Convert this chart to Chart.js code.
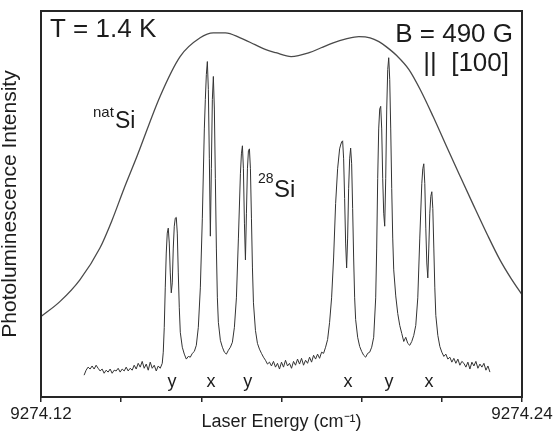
<!DOCTYPE html>
<html>
<head>
<meta charset="utf-8">
<script src="https://cdn.jsdelivr.net/npm/chart.js@4.4.0/dist/chart.umd.min.js"></script>
<style>
  html, body { margin: 0; padding: 0; background: #fff; }
  #plChart { display: block; }
</style>
</head>
<body>
<canvas id="plChart" width="556" height="435"></canvas>
<script>
// Photoluminescence of 28Si vs natSi, B = 490 G || [100]

const FONT = '"Liberation Sans", Arial, sans-serif';
const INK = '#1c1c1c';

// x axis range and tick labels
const xMin = 9274.12;
const xMax = 9274.24;
const xStep = 0.02;
const xTitle = 'Laser Energy (cm\u207B\u00B9)';

// 28Si spectrum (laser energy in cm-1, intensity in arb. units)
const siEnergy = [
    9274.13075, 9274.13125, 9274.13175, 9274.13225, 9274.13275, 9274.13325, 9274.13375, 9274.13425, 9274.13475, 9274.13525,
    9274.13575, 9274.13625, 9274.13675, 9274.13725, 9274.13775, 9274.13825, 9274.13875, 9274.13925, 9274.13975, 9274.14025,
    9274.14075, 9274.14125, 9274.14175, 9274.14225, 9274.14275, 9274.14325, 9274.14375, 9274.14425, 9274.14475, 9274.14525,
    9274.14575, 9274.14625, 9274.14675, 9274.14725, 9274.14775, 9274.14825, 9274.14875, 9274.14925, 9274.14975, 9274.15025,
    9274.15050, 9274.15075, 9274.15100, 9274.15125, 9274.15150, 9274.15175, 9274.15200, 9274.15225, 9274.15250, 9274.15275,
    9274.15300, 9274.15325, 9274.15350, 9274.15375, 9274.15400, 9274.15425, 9274.15450, 9274.15475, 9274.15525, 9274.15575,
    9274.15625, 9274.15675, 9274.15725, 9274.15775, 9274.15825, 9274.15875, 9274.15925, 9274.15975, 9274.16025, 9274.16075,
    9274.16100, 9274.16125, 9274.16150, 9274.16175, 9274.16200, 9274.16225, 9274.16250, 9274.16275, 9274.16300, 9274.16325,
    9274.16350, 9274.16375, 9274.16400, 9274.16425, 9274.16475, 9274.16525, 9274.16575, 9274.16625, 9274.16675, 9274.16725,
    9274.16775, 9274.16825, 9274.16875, 9274.16925, 9274.16975, 9274.17000, 9274.17025, 9274.17050, 9274.17075, 9274.17100,
    9274.17125, 9274.17150, 9274.17175, 9274.17200, 9274.17225, 9274.17250, 9274.17275, 9274.17300, 9274.17350, 9274.17400,
    9274.17450, 9274.17500, 9274.17550, 9274.17600, 9274.17650, 9274.17700, 9274.17750, 9274.17800, 9274.17850, 9274.17900,
    9274.17950, 9274.18000, 9274.18050, 9274.18100, 9274.18150, 9274.18200, 9274.18250, 9274.18300, 9274.18350, 9274.18400,
    9274.18450, 9274.18500, 9274.18550, 9274.18600, 9274.18650, 9274.18700, 9274.18750, 9274.18800, 9274.18850, 9274.18900,
    9274.18950, 9274.19000, 9274.19050, 9274.19100, 9274.19150, 9274.19200, 9274.19250, 9274.19300, 9274.19350, 9274.19400,
    9274.19450, 9274.19475, 9274.19500, 9274.19525, 9274.19550, 9274.19575, 9274.19600, 9274.19625, 9274.19650, 9274.19675,
    9274.19700, 9274.19725, 9274.19750, 9274.19775, 9274.19800, 9274.19825, 9274.19850, 9274.19900, 9274.19950, 9274.20000,
    9274.20050, 9274.20100, 9274.20150, 9274.20200, 9274.20250, 9274.20300, 9274.20350, 9274.20375, 9274.20400, 9274.20425,
    9274.20450, 9274.20475, 9274.20500, 9274.20525, 9274.20550, 9274.20575, 9274.20600, 9274.20625, 9274.20650, 9274.20675,
    9274.20700, 9274.20725, 9274.20750, 9274.20775, 9274.20800, 9274.20850, 9274.20900, 9274.20950, 9274.21000, 9274.21050,
    9274.21100, 9274.21150, 9274.21200, 9274.21250, 9274.21300, 9274.21350, 9274.21400, 9274.21450, 9274.21500, 9274.21525,
    9274.21550, 9274.21575, 9274.21600, 9274.21625, 9274.21650, 9274.21675, 9274.21700, 9274.21725, 9274.21750, 9274.21775,
    9274.21800, 9274.21825, 9274.21850, 9274.21900, 9274.21950, 9274.22000, 9274.22050, 9274.22100, 9274.22150, 9274.22200,
    9274.22250, 9274.22300, 9274.22350, 9274.22400, 9274.22450, 9274.22500, 9274.22550, 9274.22600, 9274.22650, 9274.22700,
    9274.22750, 9274.22800, 9274.22850, 9274.22900, 9274.22950, 9274.23000, 9274.23050, 9274.23100, 9274.23150, 9274.23200
];
const siIntensity = [
    4.9, 6.2, 7.0, 6.5, 7.3, 6.5, 7.5, 6.7, 6.0, 6.5,
    5.4, 6.2, 5.7, 6.5, 5.4, 6.2, 6.0, 6.7, 5.7, 6.5,
    6.0, 7.0, 6.0, 6.7, 6.2, 7.5, 6.5, 8.0, 7.0, 8.5,
    6.7, 7.8, 6.2, 8.3, 6.7, 7.5, 6.0, 7.3, 6.7, 8.0,
    10.9, 17.4, 27.7, 36.8, 42.0, 43.3, 39.4, 31.6, 26.4, 29.0,
    38.1, 43.8, 45.9, 46.1, 42.0, 31.6, 22.5, 16.1, 12.2, 10.4,
    9.1, 9.8, 9.6, 10.6, 11.1, 12.7, 17.4, 27.7, 45.9, 69.2,
    76.9, 83.4, 86.8, 79.5, 61.4, 41.2, 58.8, 76.9, 82.9, 74.4,
    56.2, 38.1, 25.1, 18.7, 14.0, 12.2, 10.9, 10.4, 11.4, 12.2,
    13.5, 17.4, 25.1, 40.7, 57.5, 62.7, 64.8, 58.8, 44.6, 35.0,
    47.2, 58.8, 63.5, 64.0, 58.8, 45.9, 32.9, 23.8, 16.6, 13.2,
    11.7, 10.6, 9.6, 8.8, 7.8, 8.3, 7.3, 8.5, 7.0, 8.0,
    6.5, 8.3, 7.0, 8.8, 7.3, 8.0, 6.7, 8.5, 7.5, 9.1,
    7.8, 9.3, 7.5, 8.8, 8.0, 9.6, 8.3, 10.1, 9.1, 10.4,
    9.3, 10.9, 10.6, 12.2, 14.2, 18.7, 25.1, 35.5, 49.7, 58.8,
    64.0, 65.0, 65.8, 66.1, 61.4, 51.0, 39.4, 32.9, 40.7, 53.6,
    61.4, 64.2, 60.1, 48.4, 35.5, 25.1, 19.4, 14.8, 12.4, 11.1,
    10.1, 9.6, 10.6, 10.9, 12.2, 14.8, 25.1, 38.1, 56.2, 69.2,
    74.4, 75.1, 69.2, 56.2, 47.2, 43.8, 56.2, 74.4, 84.7, 87.8,
    82.1, 69.2, 53.6, 40.7, 32.4, 25.6, 21.0, 17.9, 15.8, 13.7,
    14.8, 13.2, 12.7, 13.7, 15.3, 17.9, 25.1, 40.7, 54.9, 58.8,
    60.1, 54.9, 43.3, 34.2, 30.3, 38.1, 47.2, 51.6, 52.8, 48.4,
    38.1, 27.7, 20.5, 15.3, 12.4, 10.9, 9.8, 10.4, 9.1, 9.6,
    8.3, 9.3, 8.0, 9.1, 7.5, 8.5, 8.0, 7.0, 8.3, 6.5,
    8.3, 7.3, 8.5, 6.7, 7.8, 7.0, 8.0, 6.2, 7.3, 5.7
];

// natSi broad envelope
const natEnergy = [
    9274.12000, 9274.12470, 9274.12970, 9274.13470, 9274.13770, 9274.14070, 9274.14400, 9274.14970, 9274.15470, 9274.15970,
    9274.16300, 9274.16600, 9274.16970, 9274.17340, 9274.17610, 9274.17860, 9274.18240, 9274.18690, 9274.18990, 9274.19290,
    9274.19610, 9274.19930, 9274.20210, 9274.20430, 9274.20610, 9274.20880, 9274.21180, 9274.21460, 9274.21780, 9274.22110,
    9274.22450, 9274.22780, 9274.23130, 9274.23450, 9274.23730, 9274.24000
];
const natIntensity = [
    20.2, 24.1, 29.8, 38.1, 45.3, 53.6, 62.2, 77.7, 88.1, 93.0,
    94.3, 94.3, 93.0, 91.2, 89.9, 89.1, 88.1, 89.1, 90.4, 91.7,
    92.7, 93.3, 93.0, 92.0, 90.7, 88.3, 84.7, 79.5, 72.5, 64.8,
    57.0, 49.5, 41.7, 35.0, 30.1, 25.9
];

// polarisation labels under the line pairs
const peakLetters = ['y', 'x', 'y', 'x', 'y', 'x'];
const peakEnergy = [9274.1527, 9274.1624, 9274.1716, 9274.1966, 9274.2068, 9274.2168];

function toPoints(xs, ys) {
    return xs.map((x, i) => ({ x: x, y: ys[i] }));
}

const frameAndNotes = {
    id: 'frameAndNotes',
    afterDraw(chart) {
        const ctx = chart.ctx;
        const a = chart.chartArea;
        const xs = chart.scales.x;
        ctx.save();
        ctx.strokeStyle = '#262626';
        ctx.lineWidth = 2;
        ctx.strokeRect(a.left, a.top, a.right - a.left, a.bottom - a.top);

        ctx.fillStyle = INK;
        ctx.textBaseline = 'alphabetic';
        ctx.font = '26px ' + FONT;
        ctx.textAlign = 'left';
        ctx.fillText('T = 1.4 K', a.left + 9, 37);
        ctx.textAlign = 'right';
        ctx.fillText('B = 490 G', a.right - 9, 42);
        ctx.fillText('||  [100]', a.right - 13, 71);

        ctx.textAlign = 'left';
        ctx.font = '15px ' + FONT;
        ctx.fillText('nat', 93, 117);
        ctx.font = '23px ' + FONT;
        ctx.fillText('Si', 115, 128);
        ctx.font = '14px ' + FONT;
        ctx.fillText('28', 258, 183);
        ctx.font = '24px ' + FONT;
        ctx.fillText('Si', 274, 197);

        ctx.textAlign = 'center';
        ctx.font = '18px ' + FONT;
        peakLetters.forEach((letter, i) => {
            ctx.fillText(letter, xs.getPixelForValue(peakEnergy[i]), 387);
        });

        // x axis title, tucked between the end tick labels
        ctx.font = '18px ' + FONT;
        ctx.fillText(xTitle, (a.left + a.right) / 2, a.bottom + 30);
        ctx.restore();
    }
};

new Chart(document.getElementById('plChart'), {
    type: 'line',
    data: {
        datasets: [
            {
                label: '28Si',
                data: toPoints(siEnergy, siIntensity),
                borderColor: '#333333',
                borderWidth: 1,
                pointRadius: 0,
                tension: 0
            },
            {
                label: 'natSi',
                data: toPoints(natEnergy, natIntensity),
                borderColor: '#4a4a4a',
                borderWidth: 1.3,
                pointRadius: 0,
                cubicInterpolationMode: 'monotone'
            }
        ]
    },
    options: {
        responsive: false,
        animation: false,
        devicePixelRatio: 1,
        layout: { padding: { left: 0, right: 34, top: 11, bottom: 8 } },
        plugins: {
            legend: { display: false },
            tooltip: { enabled: false }
        },
        scales: {
            x: {
                type: 'linear',
                min: xMin,
                max: xMax,
                grid: {
                    display: true,
                    drawOnChartArea: false,
                    drawTicks: true,
                    tickLength: 5,
                    color: '#262626',
                    lineWidth: 1.5
                },
                border: { display: false },
                ticks: {
                    stepSize: xStep,
                    autoSkip: false,
                    maxRotation: 0,
                    padding: 3,
                    color: INK,
                    font: { family: FONT, size: 17, lineHeight: 19 / 17 },
                    callback: (value, index, ticks) =>
                        (index === 0 || index === ticks.length - 1) ? value.toFixed(2) : ''
                },
                title: { display: false }
            },
            y: {
                min: -0.8,
                max: 100,
                grid: { display: false, drawTicks: false },
                border: { display: false },
                ticks: { display: false },
                title: {
                    display: true,
                    text: 'Photoluminescence Intensity',
                    color: INK,
                    font: { family: FONT, size: 21, lineHeight: 1 },
                    padding: { top: 0, bottom: 20 }
                }
            }
        }
    },
    plugins: [frameAndNotes]
});
</script>
</body>
</html>
